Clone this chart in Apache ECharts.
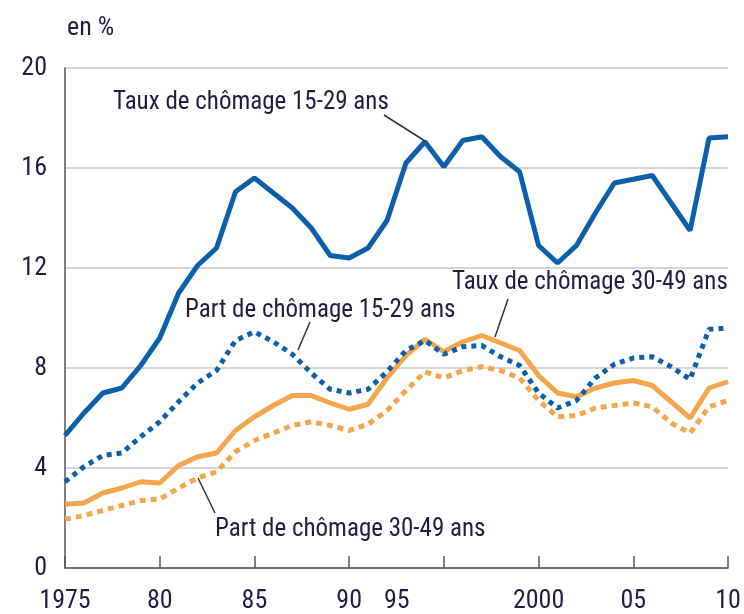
<!DOCTYPE html>
<html><head><meta charset="utf-8">
<script src="https://cdn.jsdelivr.net/npm/echarts@6/dist/echarts.min.js"></script>
<style>html,body{margin:0;padding:0;background:#fff}#c{width:744px;height:614px}</style>
</head><body><div id="c"></div>
<script>
const years = [1975,1976,1977,1978,1979,1980,1981,1982,1983,1984,1985,1986,1987,1988,1989,1990,1991,1992,1993,1994,1995,1996,1997,1998,1999,2000,2001,2002,2003,2004,2005,2006,2007,2008,2009,2010];
const tauxJeunes = [5.3,6.2,7.0,7.2,8.1,9.2,11.0,12.1,12.8,15.05,15.6,15.0,14.4,13.6,12.5,12.4,12.8,13.9,16.2,17.05,16.05,17.1,17.25,16.45,15.85,12.9,12.2,12.9,14.2,15.4,15.55,15.7,14.6,13.5,17.2,17.25];
const partJeunes = [3.45,4.05,4.5,4.6,5.25,5.85,6.65,7.4,7.9,9.1,9.45,9.05,8.55,7.8,7.15,7.0,7.15,7.85,8.7,9.1,8.55,8.85,8.9,8.45,8.1,7.0,6.4,6.7,7.6,8.15,8.4,8.45,8.05,7.55,9.55,9.6];
const tauxAdultes = [2.55,2.6,3.0,3.2,3.45,3.4,4.1,4.45,4.6,5.5,6.05,6.5,6.9,6.9,6.6,6.35,6.55,7.6,8.5,9.15,8.65,9.05,9.3,9.0,8.7,7.7,7.0,6.85,7.2,7.4,7.5,7.3,6.65,6.0,7.2,7.45];
const partAdultes = [1.95,2.1,2.3,2.5,2.7,2.75,3.2,3.6,3.85,4.65,5.1,5.4,5.7,5.85,5.7,5.5,5.75,6.3,7.1,7.85,7.6,7.9,8.05,7.9,7.6,6.7,6.05,6.1,6.4,6.5,6.6,6.45,5.8,5.4,6.45,6.7];
const xTickValues = [1975,1980,1985,1990,1995,2000,2005,2010];
const xTickLabels = ['1975','80','85','90','95','2000','05','10'];
const seriesNames = ['Taux de chômage 15-29 ans','Part de chômage 15-29 ans','Taux de chômage 30-49 ans','Part de chômage 30-49 ans'];
const unitLabel = 'en %';

const FONT = '"Liberation Sans Narrow","Arial Narrow","Roboto Condensed",sans-serif';
const TXT = '#1e1e40';
const BLUE = '#0b60a9';
const ORANGE = '#f5a64c';
const FS = 26;
const FA = 25;

const pairs = arr => years.map((y, i) => [y, arr[i]]);

const chart = echarts.init(document.getElementById('c'), null, {renderer: 'canvas'});

function annot(text, x, y, x1, y1, x2, y2) {
  return [
    {type: 'text', x: x, y: y, style: {text: text, fill: TXT, font: FA + 'px ' + FONT, verticalAlign: 'middle', align: 'left'}, z: 100},
    {type: 'line', shape: {x1: x1, y1: y1, x2: x2, y2: y2}, style: {stroke: '#333', lineWidth: 1.5}, z: 100}
  ];
}

chart.setOption({
  animation: false,
  backgroundColor: '#fff',
  grid: {left: 65, right: 16, top: 68, bottom: 46, containLabel: false},
  xAxis: {
    type: 'value', min: 1975, max: 2010, interval: 5,
    axisLine: {show: true, lineStyle: {color: '#555', width: 1.5}},
    axisTick: {show: true, inside: true, length: 12, lineStyle: {color: '#555', width: 1.5}},
    splitLine: {show: false},
    axisLabel: {
      margin: 20, color: TXT, fontSize: FS, fontFamily: FONT,
      formatter: v => {
        const i = xTickValues.indexOf(v);
        if (i < 0) return '';
        return v === 1995 ? '{s|' + xTickLabels[i] + '}' : xTickLabels[i];
      },
      rich: {s: {padding: [0, 94, 0, 0], fontSize: FS, fontFamily: FONT, color: TXT}}
    }
  },
  yAxis: {
    type: 'value', min: 0, max: 20, interval: 4,
    axisLine: {show: true, lineStyle: {color: '#555', width: 1.5}},
    axisTick: {show: false},
    splitLine: {show: true, lineStyle: {color: '#c8c8c8', width: 1.5}},
    axisLabel: {margin: 18, color: TXT, fontSize: FS, fontFamily: FONT}
  },
  series: [
    {name: seriesNames[3], type: 'line', data: pairs(partAdultes), showSymbol: false, z: 2,
     lineStyle: {color: ORANGE, width: 5, type: [6, 5]}},
    {name: seriesNames[2], type: 'line', data: pairs(tauxAdultes), showSymbol: false, z: 3,
     lineStyle: {color: ORANGE, width: 5}},
    {name: seriesNames[1], type: 'line', data: pairs(partJeunes), showSymbol: false, z: 4,
     lineStyle: {color: BLUE, width: 5, type: [5, 5]}},
    {name: seriesNames[0], type: 'line', data: pairs(tauxJeunes), showSymbol: false, z: 5,
     lineStyle: {color: BLUE, width: 5}}
  ],
  graphic: [
    {type: 'text', x: 67, y: 28, style: {text: unitLabel, fill: TXT, font: FS + 'px ' + FONT, verticalAlign: 'middle', align: 'left'}},
    ...annot(seriesNames[0], 113, 103, 384, 115, 425, 141),
    ...annot(seriesNames[2], 452, 283, 508, 299, 495, 337),
    ...annot(seriesNames[1], 185, 311, 310, 322, 298, 350),
    ...annot(seriesNames[3], 215, 530, 215, 513, 198, 478)
  ]
});
</script></body></html>
